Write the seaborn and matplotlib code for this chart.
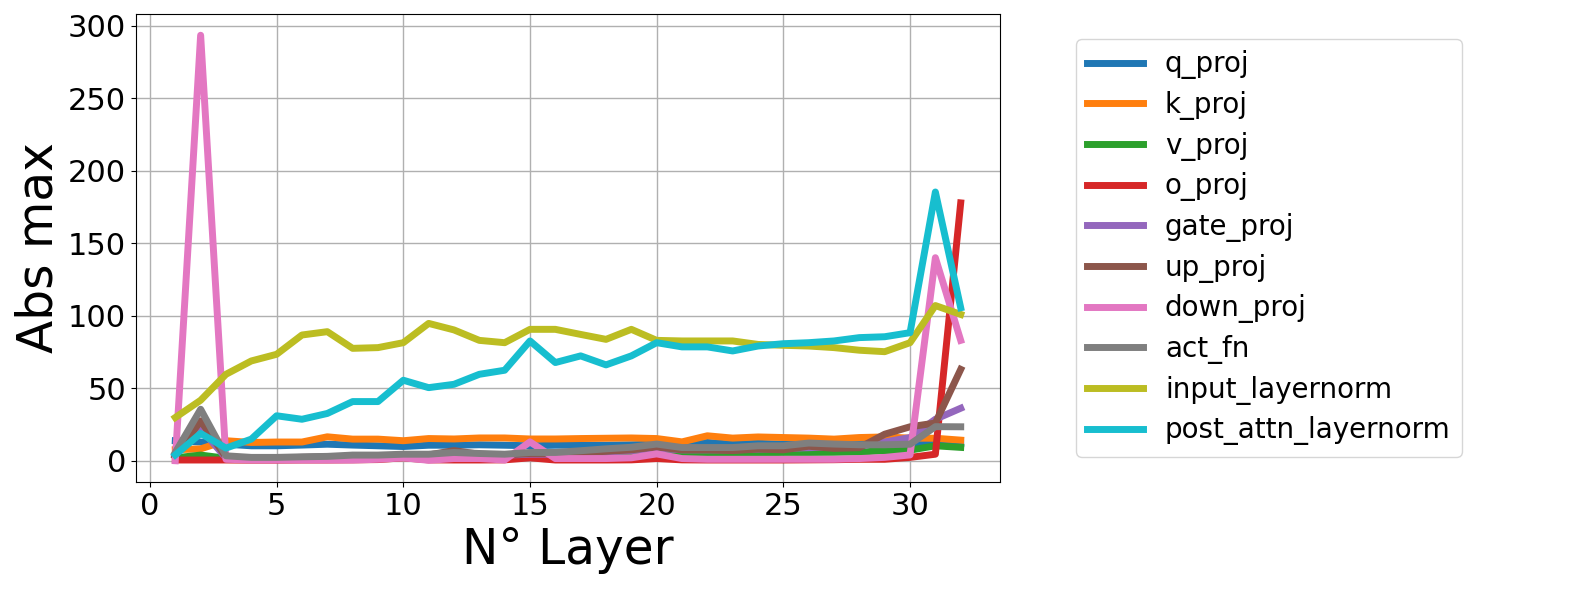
import numpy as np
import pandas as pd
import seaborn as sns
import matplotlib
matplotlib.use('Agg')
import matplotlib.pyplot as plt

layers = list(range(1, 33))

q_proj = [13.8, 12.9, 11.4, 10.3, 10.3, 10.8, 11.4, 10.8, 10.3, 9.8, 10.7, 10.7, 11.0, 10.7, 10.3, 10.7,
          10.7, 10.7, 11.0, 11.5, 11.0, 12.6, 11.4, 12.0, 11.4, 12.0, 14.5, 14.0, 13.0, 12.5, 11.4, 12.0]
k_proj = [7.6, 8.2, 13.8, 12.6, 12.9, 12.9, 16.5, 14.9, 14.9, 13.8, 15.3, 15.0, 15.7, 15.7, 15.0, 15.0,
          15.3, 15.5, 15.7, 15.3, 13.0, 17.2, 15.6, 16.4, 16.0, 15.6, 14.9, 16.0, 16.4, 15.6, 15.5, 14.2]
v_proj = [2.0, 3.9, 1.7, 2.0, 2.0, 2.2, 2.5, 2.5, 2.8, 3.0, 3.2, 3.3, 3.5, 3.5, 3.7, 3.7,
          3.8, 4.0, 4.5, 4.5, 4.6, 5.0, 5.2, 5.5, 5.7, 5.7, 5.8, 6.0, 6.9, 7.3, 10.3, 9.2]
o_proj = [0.5, 0.5, 0.5, 0.4, 0.4, 0.5, 0.5, 0.6, 0.8, 2.0, 0.6, 0.5, 0.5, 0.6, 2.0, 0.5,
          0.5, 0.5, 0.6, 1.5, 0.6, 0.5, 0.5, 0.5, 0.5, 0.6, 0.7, 1.0, 1.0, 2.3, 4.5, 177.8]
gate_proj = [4.0, 22.0, 2.0, 2.0, 2.0, 2.3, 2.5, 3.0, 3.0, 3.5, 3.5, 4.0, 4.0, 3.8, 4.5, 4.5,
             5.0, 6.0, 7.0, 8.5, 7.5, 7.5, 7.5, 8.0, 8.5, 9.0, 9.5, 10.0, 12.9, 16.0, 28.6, 36.2]
up_proj = [3.0, 27.5, 2.5, 2.0, 2.0, 2.3, 2.6, 3.0, 3.2, 4.0, 4.0, 7.0, 4.5, 4.0, 5.0, 5.0,
           5.5, 6.5, 7.5, 9.5, 7.5, 7.5, 7.0, 8.0, 7.5, 10.0, 8.5, 9.0, 18.3, 23.4, 26.0, 63.0]
down_proj = [0.0, 293.4, 1.0, 0.5, 0.5, 0.5, 0.5, 0.5, 1.0, 2.0, 0.3, 1.5, 1.5, 0.5, 13.0, 1.5,
             1.5, 1.5, 2.0, 4.7, 1.5, 1.0, 1.0, 1.0, 1.0, 1.0, 1.0, 1.5, 2.3, 4.0, 140.0, 83.0]
act_fn = [5.7, 35.5, 3.4, 2.3, 2.3, 2.7, 3.0, 3.9, 3.9, 4.5, 4.5, 5.7, 5.0, 4.5, 5.7, 5.7,
          6.9, 8.2, 9.3, 11.5, 9.1, 9.1, 9.1, 10.3, 10.3, 12.2, 11.5, 11.0, 11.0, 11.4, 23.5, 23.4]
input_layernorm = [29.8, 41.7, 59.6, 68.8, 73.4, 86.7, 89.0, 77.5, 78.0, 81.4, 94.7, 90.2, 83.0, 81.4, 90.6, 90.6,
                   87.1, 83.7, 90.6, 83.0, 82.6, 82.6, 82.6, 80.2, 79.6, 79.1, 78.0, 76.2, 75.2, 81.4, 107.0, 100.9]
post_attn_layernorm = [4.0, 18.8, 8.7, 14.9, 31.0, 28.6, 32.6, 40.8, 40.8, 55.5, 50.4, 52.7, 59.6, 62.4, 82.6, 67.7,
                       72.3, 66.1, 72.3, 81.4, 78.5, 78.5, 75.7, 79.1, 80.7, 81.4, 82.6, 84.9, 85.5, 88.3, 185.3, 105.5]

modules = ["q_proj", "k_proj", "v_proj", "o_proj", "gate_proj", "up_proj",
           "down_proj", "act_fn", "input_layernorm", "post_attn_layernorm"]
series = [q_proj, k_proj, v_proj, o_proj, gate_proj, up_proj,
          down_proj, act_fn, input_layernorm, post_attn_layernorm]

rows = []
for name, vals in zip(modules, series):
    for layer, v in zip(layers, vals):
        rows.append({"layer": layer, "value": v, "module": name})
df = pd.DataFrame(rows)

fig = plt.figure(figsize=(15.78, 5.92), dpi=100)
ax = fig.add_axes([0.0862, 0.1858, 0.5475, 0.7906])

sns.lineplot(data=df, x="layer", y="value", hue="module", hue_order=modules,
             palette="tab10", linewidth=5, ax=ax)

ax.grid(True, color="#b0b0b0", linewidth=1.0)
ax.set_axisbelow(True)
ax.tick_params(labelsize=22)
ax.set_xlabel("N° Layer", fontsize=35)
ax.set_ylabel("Abs max", fontsize=35)

leg = ax.legend(loc="center left", bbox_to_anchor=(1.072, 0.5), fontsize=20,
                labelspacing=0.42, title=None)
for line in leg.get_lines():
    line.set_linewidth(5)

fig.savefig("out.png", dpi=100)
